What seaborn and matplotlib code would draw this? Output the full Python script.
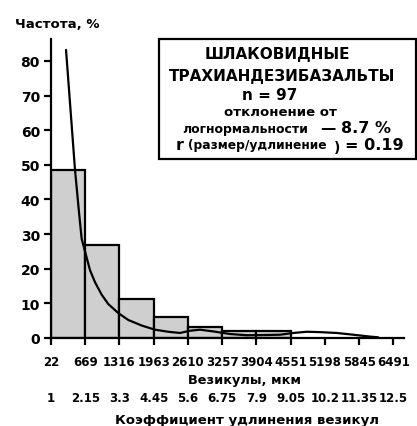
import matplotlib
matplotlib.use("Agg")
import matplotlib.pyplot as plt
import matplotlib.transforms as mtransforms
from matplotlib.patches import Rectangle
import seaborn as sns
import pandas as pd

# ---- data ----
bin_edges = [22, 669, 1316, 1963, 2610, 3257, 3904, 4551]
bar_pct = [48.45, 26.8, 11.34, 6.19, 3.09, 2.06, 2.06]

tick_values = [22, 669, 1316, 1963, 2610, 3257, 3904, 4551, 5198, 5845, 6491]
tick_labels = ["22", "669", "1316", "1963", "2610", "3257", "3904", "4551", "5198", "5845", "6491"]
elong_labels = ["1", "2.15", "3.3", "4.45", "5.6", "6.75", "7.9", "9.05", "10.2", "11.35", "12.5"]

curve_x = [306, 381, 476, 557, 602, 665, 759, 854, 980, 1105, 1294, 1483, 1736, 1988,
           2239, 2460, 2649, 2838, 3089, 3405, 3721, 4099, 4350, 4601, 4854, 5106,
           5421, 5735, 6051, 6207]
curve_y = [83.2, 67.9, 48.5, 35.4, 28.6, 25.0, 19.6, 16.1, 12.5, 9.8, 7.2, 5.2, 3.6, 2.4,
           1.8, 1.45, 2.1, 2.4, 1.9, 1.15, 0.8, 0.87, 0.95, 1.45, 1.8, 1.7,
           1.45, 0.95, 0.4, 0.2]

y_ticks = [0, 10, 20, 30, 40, 50, 60, 70, 80]

sns.set_style("white", rc={"text.color": "black", "axes.labelcolor": "black",
                           "xtick.color": "black", "ytick.color": "black",
                           "axes.edgecolor": "black"})
plt.rcParams["font.family"] = ["DejaVu Sans"]
plt.rcParams["font.weight"] = "bold"
plt.rcParams["text.color"] = "black"

W, H = 417, 427
fig = plt.figure(figsize=(W / 100, H / 100), dpi=100)

def fx(px):
    return px / W

def fy(py):
    return 1 - py / H

ax = fig.add_axes([fx(51), fy(339), fx(404) - fx(51), fy(40) - fy(339)])

mids = [(bin_edges[i] + bin_edges[i + 1]) / 2 for i in range(len(bar_pct))]
hist_df = pd.DataFrame({"size": mids, "pct": bar_pct})
sns.histplot(data=hist_df, x="size", weights="pct", bins=bin_edges, stat="count",
             color="#cfcfcf", alpha=1.0, edgecolor="black", linewidth=1.6, ax=ax)

curve_df = pd.DataFrame({"x": curve_x, "y": curve_y})
sns.lineplot(data=curve_df, x="x", y="y", color="black", linewidth=1.6, ax=ax,
             sort=False, clip_on=False)

ax.set_xlim(22, 6694)
ax.set_ylim(0, 86.35)
ax.set_xlabel("")
ax.set_ylabel("")

for s in ["top", "right"]:
    ax.spines[s].set_visible(False)
for s in ["left", "bottom"]:
    ax.spines[s].set_linewidth(1.6)
    ax.spines[s].set_color("black")

ax.set_yticks(y_ticks)
ax.set_yticklabels([str(v) for v in y_ticks], fontsize=10, fontweight="bold", color="black")
ax.tick_params(axis="y", direction="out", length=5, width=1.6, pad=3, left=True,
               colors="black")

ax.set_xticks(tick_values)
ax.set_xticklabels([])
ax.tick_params(axis="x", direction="out", length=5, width=1.6, bottom=True, colors="black")

blend = mtransforms.blended_transform_factory(ax.transData, fig.transFigure)
for v, lab in zip(tick_values, tick_labels):
    ax.text(v, fy(362), lab, transform=blend, ha="center", va="center", fontsize=8.5,
            fontweight="bold", color="black", clip_on=False)
for v, lab in zip(tick_values, elong_labels):
    ax.text(v, fy(399), lab, transform=blend, ha="center", va="center", fontsize=8.5,
            fontweight="bold", color="black", clip_on=False)

fig.text(fx(245), fy(381), "Везикулы, мкм", ha="center", va="center", fontsize=9.3,
         fontweight="bold", color="black")
fig.text(fx(247), fy(421), "Коэффициент удлинения везикул", ha="center", va="center",
         fontsize=9.5, fontweight="bold", color="black")
fig.text(fx(15), fy(25), "Частота, %", ha="left", va="center", fontsize=9.5,
         fontweight="bold", color="black")

# ---- annotation box ----
fig.patches.append(Rectangle((fx(158.5), fy(160)), fx(415.5) - fx(158.5), fy(39.5) - fy(160),
                             transform=fig.transFigure, fill=False, edgecolor="black",
                             linewidth=1.6))
box_kw = dict(fontweight="bold", color="black", va="baseline")
fig.text(fx(277), fy(59.5), "ШЛАКОВИДНЫЕ", ha="center", fontsize=11, **box_kw)
fig.text(fx(282), fy(81), "ТРАХИАНДЕЗИБАЗАЛЬТЫ", ha="center", fontsize=11, **box_kw)
fig.text(fx(270), fy(100), "n = 97", ha="center", fontsize=11, **box_kw)
fig.text(fx(280), fy(116.5), "отклонение от", ha="center", fontsize=9.5, **box_kw)
fig.text(fx(182.5), fy(132.5), "логнормальности", ha="left", fontsize=9, **box_kw)
fig.text(fx(320), fy(132.5), "—", ha="left", fontsize=11, **box_kw)
fig.text(fx(341), fy(133), "8.7 %", ha="left", fontsize=11.5, **box_kw)
fig.text(fx(176), fy(150), "r", ha="left", fontsize=11.5, **box_kw)
fig.text(fx(188), fy(149.5), "(размер/удлинение", ha="left", fontsize=8.8, **box_kw)
fig.text(fx(334), fy(151.5), ")", ha="left", fontsize=10, **box_kw)
fig.text(fx(345), fy(150), "= 0.19", ha="left", fontsize=11.5, **box_kw)

fig.savefig("out.png", dpi=100)
